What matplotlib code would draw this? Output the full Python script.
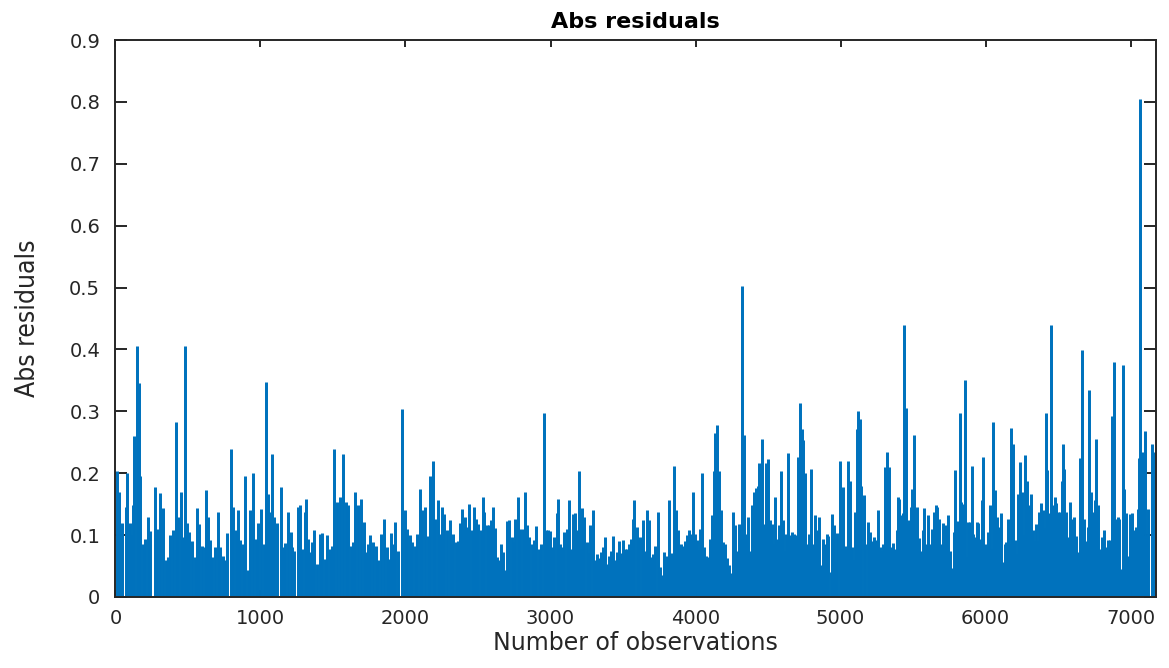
import matplotlib
matplotlib.use("Agg")
import matplotlib.pyplot as plt
import numpy as np

seg1_obs = [12, 23, 46, 69, 76, 98, 110, 122, 129, 150, 159, 172, 188, 195, 205, 223, 241, 269, 288, 305,
            329, 345, 360, 379, 398, 419, 432, 453, 467, 481, 494, 510, 529, 545, 563, 579, 598, 614, 627, 636,
            650, 667, 683, 705, 724, 743, 758, 770, 798, 812, 832, 846, 862, 880, 896, 912, 931, 949, 967, 986,
            1005, 1022, 1041, 1050, 1064, 1080, 1096, 1115, 1138, 1156, 1172, 1191, 1207]
seg1_val = [0.203, 0.17, 0.12, 0.145, 0.2, 0.12, 0.1, 0.148, 0.26, 0.406, 0.346, 0.196, 0.086, 0.054, 0.094, 0.13, 0.107, 0.178, 0.11, 0.168,
            0.144, 0.06, 0.065, 0.1, 0.108, 0.282, 0.13, 0.17, 0.097, 0.406, 0.12, 0.105, 0.09, 0.065, 0.144, 0.118, 0.083, 0.08, 0.173, 0.13,
            0.092, 0.065, 0.08, 0.138, 0.08, 0.067, 0.06, 0.103, 0.239, 0.145, 0.108, 0.14, 0.092, 0.086, 0.196, 0.043, 0.14, 0.2, 0.094, 0.12,
            0.142, 0.086, 0.347, 0.167, 0.137, 0.231, 0.13, 0.12, 0.177, 0.08, 0.088, 0.137, 0.105]

seg2_obs = [1215, 1233, 1256, 1275, 1289, 1307, 1314, 1325, 1344, 1358, 1371, 1387, 1408, 1426, 1445, 1459, 1477, 1495, 1509, 1525,
            1548, 1567, 1587, 1604, 1622, 1638, 1654, 1670, 1693, 1712, 1725, 1739, 1758, 1776, 1794, 1813, 1831, 1854, 1870, 1886,
            1900, 1914, 1928, 1951, 1978, 1997, 2010, 2029, 2047, 2066, 2082, 2100, 2116, 2135, 2153, 2171, 2187, 2204, 2222, 2238,
            2254, 2268, 2286, 2305, 2319, 2330, 2346, 2360, 2374, 2388, 2404]
seg2_val = [0.08, 0.075, 0.145, 0.148, 0.078, 0.137, 0.159, 0.094, 0.073, 0.089, 0.108, 0.054, 0.101, 0.103, 0.062, 0.1, 0.078, 0.083, 0.239, 0.153,
            0.161, 0.231, 0.153, 0.148, 0.083, 0.089, 0.169, 0.148, 0.159, 0.121, 0.073, 0.086, 0.1, 0.089, 0.083, 0.059, 0.102, 0.126, 0.081, 0.062,
            0.103, 0.086, 0.121, 0.074, 0.303, 0.14, 0.11, 0.1, 0.089, 0.082, 0.101, 0.175, 0.14, 0.145, 0.098, 0.196, 0.22, 0.126, 0.157, 0.102,
            0.146, 0.134, 0.109, 0.124, 0.086, 0.102, 0.089, 0.091, 0.119, 0.142, 0.108]

seg3_obs = [2410, 2427, 2440, 2456, 2470, 2484, 2502, 2519, 2532, 2544, 2560, 2576, 2590, 2601, 2615, 2629, 2643, 2656, 2675, 2686,
            2698, 2716, 2732, 2744, 2758, 2774, 2790, 2808, 2824, 2840, 2854, 2870, 2886, 2900, 2919, 2937, 2953, 2969, 2985, 2997,
            3011, 3027, 3043, 3052, 3066, 3079, 3093, 3112, 3128, 3144, 3158, 3171, 3181, 3194, 3204, 3217, 3234, 3250, 3263, 3275,
            3291, 3305, 3319, 3332, 3346, 3360, 3374, 3388, 3401, 3415, 3429, 3443, 3457, 3470, 3484, 3498, 3512, 3526, 3539, 3553,
            3567, 3578, 3594, 3611]
seg3_val = [0.129, 0.113, 0.151, 0.108, 0.145, 0.126, 0.118, 0.108, 0.161, 0.137, 0.116, 0.117, 0.124, 0.145, 0.112, 0.065, 0.059, 0.086, 0.073, 0.043,
            0.123, 0.125, 0.097, 0.089, 0.126, 0.161, 0.11, 0.11, 0.17, 0.116, 0.097, 0.086, 0.092, 0.114, 0.078, 0.086, 0.297, 0.109, 0.108, 0.106,
            0.081, 0.097, 0.136, 0.158, 0.086, 0.081, 0.105, 0.11, 0.157, 0.078, 0.134, 0.135, 0.108, 0.204, 0.078, 0.144, 0.13, 0.089, 0.071, 0.116,
            0.14, 0.059, 0.069, 0.063, 0.073, 0.081, 0.097, 0.054, 0.067, 0.075, 0.098, 0.059, 0.073, 0.091, 0.071, 0.092, 0.078, 0.078, 0.086, 0.094,
            0.126, 0.156, 0.113, 0.097]

seg4_obs = [3629, 3640, 3652, 3666, 3680, 3693, 3709, 3721, 3739, 3753, 3767, 3781, 3795, 3806, 3817, 3831, 3840, 3852, 3863, 3877,
            3889, 3903, 3916, 3928, 3942, 3958, 3972, 3983, 3997, 4011, 4020, 4034, 4047, 4061, 4075, 4089, 4103, 4116, 4126, 4135,
            4149, 4162, 4176, 4190, 4204, 4218, 4231, 4245, 4259, 4273, 4286, 4300, 4314, 4321, 4332, 4346, 4360, 4374, 4388, 4401,
            4415, 4429, 4436, 4445, 4459, 4470, 4484, 4498, 4512, 4526, 4539, 4549, 4562, 4576, 4588, 4601, 4613, 4627, 4641, 4654,
            4668, 4682, 4696, 4710, 4719, 4733, 4744, 4755, 4769, 4783, 4797, 4811, 4822]
seg4_val = [0.097, 0.124, 0.075, 0.141, 0.125, 0.065, 0.069, 0.083, 0.137, 0.048, 0.035, 0.073, 0.054, 0.067, 0.156, 0.071, 0.066, 0.211, 0.14, 0.109,
            0.078, 0.086, 0.082, 0.09, 0.1, 0.109, 0.101, 0.17, 0.102, 0.092, 0.076, 0.11, 0.2, 0.081, 0.067, 0.065, 0.093, 0.132, 0.204, 0.265,
            0.278, 0.204, 0.14, 0.089, 0.086, 0.063, 0.051, 0.038, 0.137, 0.116, 0.075, 0.118, 0.108, 0.502, 0.261, 0.102, 0.129, 0.075, 0.148, 0.17,
            0.176, 0.18, 0.216, 0.14, 0.256, 0.118, 0.216, 0.223, 0.124, 0.118, 0.086, 0.161, 0.094, 0.116, 0.204, 0.124, 0.075, 0.102, 0.232, 0.1,
            0.105, 0.102, 0.1, 0.226, 0.313, 0.272, 0.253, 0.2, 0.086, 0.102, 0.207, 0.086, 0.132]

seg5_obs = [4836, 4852, 4866, 4877, 4891, 4905, 4916, 4933, 4942, 4956, 4969, 4979, 4995, 5006, 5015, 5029, 5043, 5052, 5064, 5077,
            5091, 5103, 5114, 5123, 5133, 5144, 5160, 5172, 5188, 5204, 5218, 5231, 5245, 5259, 5273, 5287, 5296, 5305, 5321, 5335,
            5346, 5360, 5374, 5388, 5395, 5406, 5415, 5429, 5441, 5450, 5461, 5475, 5484, 5494, 5505, 5516, 5526, 5539, 5553, 5567,
            5579, 5590, 5604, 5618, 5631, 5643, 5657, 5668, 5682, 5694, 5710, 5721, 5733, 5744, 5756, 5769, 5781, 5790, 5802, 5811,
            5822, 5834, 5845, 5859, 5871, 5882, 5894, 5905, 5917, 5928, 5940, 5951, 5962, 5974, 5985, 5997, 6008, 6020, 6029]
seg5_val = [0.108, 0.129, 0.051, 0.094, 0.086, 0.101, 0.098, 0.04, 0.134, 0.117, 0.056, 0.103, 0.219, 0.078, 0.178, 0.083, 0.078, 0.22, 0.187, 0.081,
            0.06, 0.137, 0.272, 0.301, 0.288, 0.18, 0.164, 0.086, 0.121, 0.105, 0.09, 0.097, 0.092, 0.14, 0.081, 0.075, 0.086, 0.21, 0.234, 0.21,
            0.081, 0.087, 0.078, 0.108, 0.161, 0.159, 0.132, 0.135, 0.44, 0.305, 0.118, 0.124, 0.145, 0.175, 0.262, 0.108, 0.146, 0.096, 0.075, 0.109,
            0.144, 0.086, 0.133, 0.086, 0.11, 0.137, 0.148, 0.146, 0.126, 0.086, 0.119, 0.116, 0.113, 0.132, 0.075, 0.047, 0.105, 0.205, 0.092, 0.123,
            0.297, 0.153, 0.151, 0.351, 0.065, 0.121, 0.121, 0.212, 0.102, 0.097, 0.121, 0.119, 0.094, 0.157, 0.226, 0.086, 0.081, 0.105, 0.149]

seg6_obs = [6043, 6054, 6066, 6080, 6094, 6107, 6121, 6135, 6144, 6156, 6167, 6176, 6188, 6202, 6213, 6222, 6236, 6250, 6264, 6275,
            6287, 6298, 6312, 6326, 6335, 6346, 6360, 6372, 6383, 6395, 6406, 6415, 6425, 6436, 6452, 6464, 6478, 6489, 6500, 6512,
            6526, 6535, 6544, 6556, 6569, 6583, 6597, 6611, 6625, 6638, 6652, 6666, 6678, 6691, 6705, 6717, 6728, 6742, 6753, 6763,
            6774, 6788, 6802, 6815, 6829, 6843, 6857, 6871, 6884, 6898, 6912, 6924, 6935, 6946, 6958, 6972, 6986, 6999, 7013, 7027,
            7038, 7050, 7059, 7068, 7078, 7089, 7101, 7112, 7124, 7147, 7160, 7170]
seg6_val = [0.078, 0.282, 0.173, 0.129, 0.113, 0.135, 0.056, 0.086, 0.089, 0.126, 0.086, 0.273, 0.248, 0.092, 0.07, 0.167, 0.218, 0.169, 0.1, 0.23,
            0.187, 0.149, 0.167, 0.108, 0.091, 0.118, 0.091, 0.137, 0.152, 0.14, 0.112, 0.298, 0.205, 0.135, 0.44, 0.148, 0.161, 0.152, 0.137, 0.137,
            0.188, 0.247, 0.207, 0.137, 0.097, 0.153, 0.126, 0.129, 0.098, 0.073, 0.225, 0.399, 0.126, 0.091, 0.113, 0.334, 0.169, 0.137, 0.156, 0.255,
            0.148, 0.078, 0.097, 0.108, 0.081, 0.092, 0.092, 0.293, 0.379, 0.126, 0.129, 0.126, 0.046, 0.375, 0.175, 0.135, 0.066, 0.134, 0.135, 0.108,
            0.113, 0.142, 0.225, 0.805, 0.234, 0.226, 0.269, 0.102, 0.142, 0.247, 0.108, 0.234]

n_obs = 7176
x_ticks = [0, 1000, 2000, 3000, 4000, 5000, 6000, 7000]
x_tick_labels = ["0", "1000", "2000", "3000", "4000", "5000", "6000", "7000"]
y_ticks = [0, 0.1, 0.2, 0.3, 0.4, 0.5, 0.6, 0.7, 0.8, 0.9]
y_tick_labels = ["0", "0.1", "0.2", "0.3", "0.4", "0.5", "0.6", "0.7", "0.8", "0.9"]

obs = np.array(seg1_obs + seg2_obs + seg3_obs + seg4_obs + seg5_obs + seg6_obs)
resid = np.array(seg1_val + seg2_val + seg3_val + seg4_val + seg5_val + seg6_val)

# ---- figure ----
fig = plt.figure(figsize=(11.69, 6.68), dpi=100)
ax = fig.add_axes([0.0988, 0.1063, 0.9889 - 0.0988, 0.9401 - 0.1063])

line_color = "#0072BD"
ax.vlines(obs, 0, resid, colors=line_color, linewidth=2.15)

ax.set_xlim(0, n_obs)
ax.set_ylim(0, 0.9)

axis_color = "#262626"
ax.set_xticks(x_ticks)
ax.set_xticklabels(x_tick_labels)
ax.set_yticks(y_ticks)
ax.set_yticklabels(y_tick_labels)

for s in ax.spines.values():
    s.set_color(axis_color)
    s.set_linewidth(1.4)
    s.set_zorder(3)

ax.tick_params(axis="x", direction="in", length=5, width=1.4, color=axis_color,
               labelcolor=axis_color, labelsize=14, pad=9, top=True)
ax.tick_params(axis="y", direction="in", length=8.5, width=1.4, color=axis_color,
               labelcolor=axis_color, labelsize=14, pad=11, right=True)
for lab in ax.get_xticklabels() + ax.get_yticklabels():
    lab.set_fontfamily("DejaVu Sans")

ax.set_xlabel("Number of observations", fontsize=17, color=axis_color,
              family="DejaVu Sans", labelpad=2)
ax.set_ylabel("Abs residuals", fontsize=19, color=axis_color,
              family="DejaVu Sans", fontstretch="condensed", labelpad=20)
ax.set_title("Abs residuals", fontsize=16, fontweight="bold", color="black",
             family="DejaVu Sans", pad=9)

fig.savefig("out.png", dpi=100)
